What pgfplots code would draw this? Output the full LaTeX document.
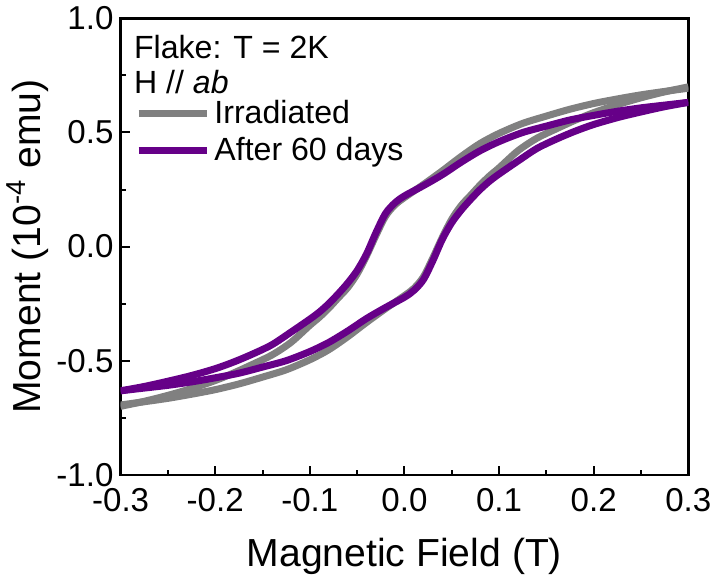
\documentclass[border=0pt]{standalone}
\usepackage{pgfplots}
\pgfplotsset{compat=1.18}
\usepackage{fontspec}
\setmainfont{Liberation Sans}
\definecolor{irr}{RGB}{128,128,128}
\definecolor{aft}{RGB}{102,0,136}
\begin{document}
\begin{tikzpicture}
\begin{axis}[
  scale only axis, width=283pt, height=227.5pt,
  xmin=-0.3, xmax=0.3, ymin=-1, ymax=1,
  xtick={-0.3,-0.2,-0.1,0,0.1,0.2,0.3},
  ytick={-1,-0.5,0,0.5,1},
  minor x tick num=1, minor y tick num=1,
  tick align=inside, xtick pos=bottom, ytick pos=left,
  major tick length=4.5pt, minor tick length=2.5pt,
  axis line style={line width=1.2pt},
  every tick/.style={black, line width=1pt},
  /pgf/number format/assume math mode=true,
  ticklabel style={font=\fontsize{16.5}{18}\selectfont},
  xticklabel style={yshift=-3.5pt, /pgf/number format/.cd, fixed, fixed zerofill, precision=1},
  yticklabel style={/pgf/number format/.cd, fixed, fixed zerofill, precision=1},
  xlabel={Magnetic Field (T)},
  ylabel={Moment (10\textsuperscript{-4} emu)},
  label style={font=\fontsize{19.5}{22}\selectfont},
  xlabel style={yshift=-6pt},
  ylabel style={yshift=-3pt},
  legend style={at={(axis description cs:0.025,0.83)}, anchor=north west, draw=none, fill=none,
    font=\fontsize{16}{18}\selectfont, row sep=1.5pt, inner sep=0pt, cells={anchor=west}},
  legend image code/.code={\draw[#1] (0pt,0pt) -- (34pt,0pt);},
]
\addplot[irr, line width=3.5pt, smooth] coordinates {
(0.30,0.694)(0.275,0.680)(0.25,0.665)(0.225,0.647)(0.20,0.627)(0.175,0.602)(0.15,0.572)(0.125,0.540)(0.10,0.496)(0.08,0.452)(0.06,0.395)(0.04,0.332)(0.02,0.272)(0.00,0.215)(-0.01,0.183)(-0.02,0.133)(-0.03,0.05)(-0.04,-0.04)(-0.05,-0.12)(-0.06,-0.18)(-0.07,-0.225)(-0.08,-0.27)(-0.09,-0.31)(-0.10,-0.345)(-0.12,-0.42)(-0.14,-0.475)(-0.16,-0.515)(-0.18,-0.553)(-0.20,-0.587)(-0.225,-0.622)(-0.25,-0.652)(-0.275,-0.678)(-0.30,-0.70)
};
\addlegendentry{Irradiated}
\addplot[irr, line width=3.5pt, smooth, forget plot] coordinates {
(-0.30,-0.694)(-0.275,-0.680)(-0.25,-0.665)(-0.225,-0.647)(-0.20,-0.627)(-0.175,-0.602)(-0.15,-0.572)(-0.125,-0.540)(-0.10,-0.496)(-0.08,-0.452)(-0.06,-0.395)(-0.04,-0.332)(-0.02,-0.272)(0.00,-0.215)(0.01,-0.183)(0.02,-0.133)(0.03,-0.05)(0.04,0.04)(0.05,0.12)(0.06,0.18)(0.07,0.225)(0.08,0.27)(0.09,0.31)(0.10,0.345)(0.12,0.42)(0.14,0.475)(0.16,0.515)(0.18,0.553)(0.20,0.587)(0.225,0.622)(0.25,0.652)(0.275,0.678)(0.30,0.70)
};
\addplot[aft, line width=3.5pt, smooth] coordinates {
(0.30,0.632)(0.275,0.62)(0.25,0.608)(0.225,0.593)(0.20,0.575)(0.175,0.555)(0.15,0.528)(0.125,0.50)(0.10,0.46)(0.08,0.42)(0.06,0.37)(0.04,0.315)(0.02,0.267)(0.00,0.222)(-0.01,0.192)(-0.02,0.145)(-0.03,0.062)(-0.04,-0.032)(-0.05,-0.105)(-0.06,-0.16)(-0.07,-0.207)(-0.08,-0.25)(-0.09,-0.287)(-0.10,-0.318)(-0.12,-0.375)(-0.14,-0.43)(-0.16,-0.47)(-0.18,-0.505)(-0.20,-0.535)(-0.225,-0.565)(-0.25,-0.59)(-0.275,-0.613)(-0.30,-0.632)
};
\addlegendentry{After 60 days}
\addplot[aft, line width=3.5pt, smooth, forget plot] coordinates {
(-0.30,-0.632)(-0.275,-0.62)(-0.25,-0.608)(-0.225,-0.593)(-0.20,-0.575)(-0.175,-0.555)(-0.15,-0.528)(-0.125,-0.50)(-0.10,-0.46)(-0.08,-0.42)(-0.06,-0.37)(-0.04,-0.315)(-0.02,-0.267)(0.00,-0.222)(0.01,-0.192)(0.02,-0.145)(0.03,-0.062)(0.04,0.032)(0.05,0.105)(0.06,0.16)(0.07,0.207)(0.08,0.25)(0.09,0.287)(0.10,0.318)(0.12,0.375)(0.14,0.43)(0.16,0.47)(0.18,0.505)(0.20,0.535)(0.225,0.565)(0.25,0.59)(0.275,0.613)(0.30,0.632)
};
\node[anchor=base west, inner sep=0pt, font=\fontsize{16}{18}\selectfont] at (axis description cs:0.023,0.912) {Flake: T = 2K};
\node[anchor=base west, inner sep=0pt, font=\fontsize{16}{18}\selectfont] at (axis description cs:0.023,0.835) {H // \textit{ab}};
\end{axis}
\end{tikzpicture}
\end{document}
